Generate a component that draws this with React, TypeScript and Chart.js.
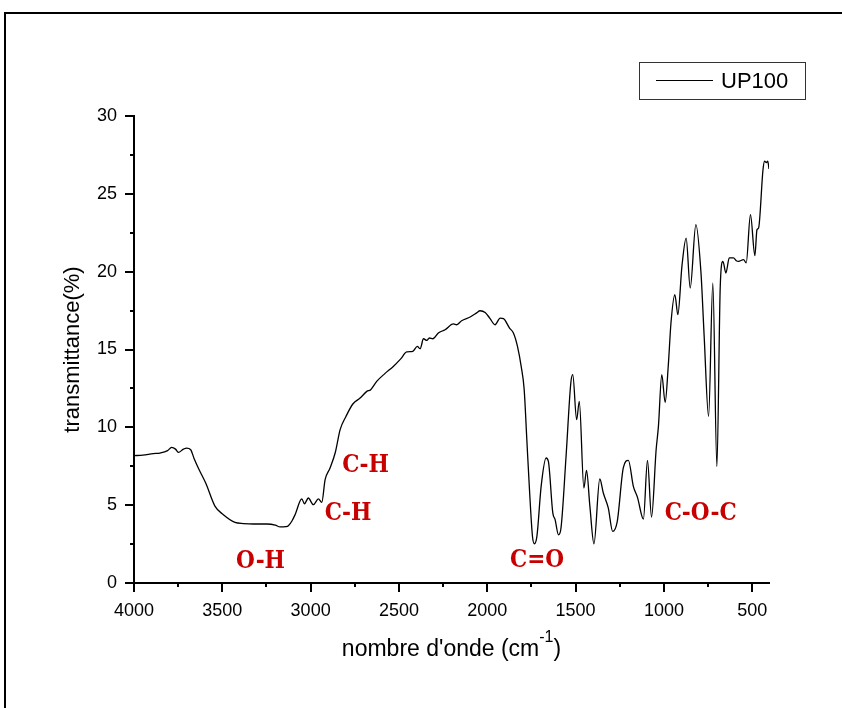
import { useEffect, useRef } from "react";
import { Chart, registerables } from "chart.js";

Chart.register(...registerables);

// ---- data ----
const wavenumbers = [
  4000, 3950, 3891, 3853, 3810, 3787, 3765, 3749, 3720, 3702, 3679, 3660, 3636, 3594, 3541,
  3494, 3428, 3380, 3324, 3249, 3200, 3173, 3140, 3126, 3105, 3088, 3050, 3035, 3013, 2985,
  2956, 2937, 2918, 2890, 2860, 2833, 2800, 2761, 2720, 2682, 2660, 2626, 2580, 2532, 2490,
  2456, 2422, 2396, 2380, 2361, 2342, 2328, 2308, 2277, 2239, 2192, 2173, 2145, 2097, 2060,
  2041, 2012, 1985, 1956, 1927, 1908, 1874, 1852, 1829, 1808, 1791, 1776, 1761, 1744, 1733,
  1719, 1695, 1667, 1654, 1629, 1616, 1597, 1584, 1554, 1527, 1516, 1494, 1479, 1453, 1438,
  1419, 1396, 1363, 1343, 1315, 1290, 1264, 1230, 1201, 1173, 1150, 1116, 1093, 1070, 1044,
  1031, 1012, 993, 975, 960, 938, 921, 898, 874, 851, 819, 790, 772, 747, 723,
  700, 681, 666, 649, 630, 606, 590, 578, 549, 534, 510, 485, 473, 464, 439,
  430, 420, 412, 405,
];
const transmittance = [
  8.18, 8.22, 8.31, 8.35, 8.5, 8.71, 8.6, 8.39, 8.6, 8.67, 8.56, 8.0, 7.39, 6.42, 4.92,
  4.39, 3.89, 3.82, 3.79, 3.79, 3.72, 3.6, 3.62, 3.68, 4.0, 4.39, 5.4, 5.09, 5.46, 5.03,
  5.4, 5.18, 6.64, 7.39, 8.4, 9.85, 10.7, 11.5, 11.88, 12.31, 12.42, 12.95, 13.45, 13.91, 14.4,
  14.84, 14.88, 15.2, 15.05, 15.69, 15.58, 15.74, 15.69, 16.06, 16.27, 16.64, 16.59, 16.85, 17.09, 17.35,
  17.49, 17.38, 17.0, 16.59, 17.02, 16.98, 16.38, 16.06, 15.2, 13.91, 12.42, 9.2, 5.99, 2.99, 2.52,
  2.99, 6.21, 8.03, 7.81, 4.5, 4.07, 3.1, 3.42, 8.13, 12.85, 13.38, 10.49, 11.67, 6.1, 7.23,
  4.92, 2.52, 6.68, 5.78, 4.82, 3.31, 3.96, 7.39, 7.88, 6.21, 5.52, 4.11, 7.88, 4.24, 8.56,
  10.06, 13.38, 11.6, 14.0, 16.7, 18.52, 17.24, 20.34, 22.16, 18.95, 23.02, 19.91, 15.84, 10.7, 19.27,
  7.49, 19.05, 20.66, 19.91, 20.88, 20.88, 20.7, 20.66, 20.77, 20.56, 23.66, 21.03, 22.7, 22.8, 26.55,
  27.1, 27.0, 27.1, 26.6,
];
const seriesLabel = "UP100";

const xTickValues = [4000, 3500, 3000, 2500, 2000, 1500, 1000, 500];
const yTickValues = [0, 5, 10, 15, 20, 25, 30];
const xMinorValues = [3750, 3250, 2750, 2250, 1750, 1250, 750];
const yMinorValues = [2.5, 7.5, 12.5, 17.5, 22.5, 27.5];

const annotationTexts = ["O-H", "C-H", "C-H", "C=O", "C-O-C"];
const annotationWn = [3284, 2689, 2788, 1718, 792];
const annotationT = [0.98, 7.15, 4.07, 1.05, 4.07];

const xTitle = "nombre d'onde (cm";
const xTitleSup = "-1";
const xTitleEnd = ")";
const yTitle = "transmittance(%)";

const SANS = '"Liberation Sans", Arial, sans-serif';
const SERIF = '"DejaVu Serif Condensed", "DejaVu Serif", serif';

const decorPlugin = {
  id: "decor",
  afterDraw(chart: any) {
    const { ctx, chartArea } = chart;
    const x = chart.scales.x;
    const y = chart.scales.y;
    ctx.save();
    ctx.strokeStyle = "#000";
    ctx.lineWidth = 2;
    ctx.beginPath();
    const bottom = chartArea.bottom;
    const left = chartArea.left;
    xTickValues.forEach((v) => {
      const p = Math.round(x.getPixelForValue(v));
      ctx.moveTo(p, bottom);
      ctx.lineTo(p, bottom + 9);
    });
    xMinorValues.forEach((v) => {
      const p = Math.round(x.getPixelForValue(v));
      ctx.moveTo(p, bottom);
      ctx.lineTo(p, bottom + 4);
    });
    yTickValues.forEach((v) => {
      const p = Math.round(y.getPixelForValue(v));
      ctx.moveTo(left, p);
      ctx.lineTo(left - 9, p);
    });
    yMinorValues.forEach((v) => {
      const p = Math.round(y.getPixelForValue(v));
      ctx.moveTo(left, p);
      ctx.lineTo(left - 4, p);
    });
    ctx.stroke();

    // annotations
    ctx.fillStyle = "#c80000";
    ctx.font = `bold 24px ${SERIF}`;
    ctx.textAlign = "center";
    ctx.textBaseline = "alphabetic";
    annotationTexts.forEach((t, i) => {
      ctx.fillText(t, x.getPixelForValue(annotationWn[i]), y.getPixelForValue(annotationT[i]));
    });

    // axis titles
    ctx.fillStyle = "#000";
    const cx = (chartArea.left + chartArea.right) / 2;
    ctx.font = `23px ${SANS}`;
    const w1 = ctx.measureText(xTitle).width;
    ctx.font = `16px ${SANS}`;
    const w2 = ctx.measureText(xTitleSup).width;
    ctx.font = `23px ${SANS}`;
    const w3 = ctx.measureText(xTitleEnd).width;
    const total = w1 + w2 + w3;
    let sx = cx - total / 2;
    const base = 656;
    ctx.textAlign = "left";
    ctx.fillText(xTitle, sx, base);
    sx += w1;
    ctx.font = `16px ${SANS}`;
    ctx.fillText(xTitleSup, sx, base - 14);
    sx += w2;
    ctx.font = `23px ${SANS}`;
    ctx.fillText(xTitleEnd, sx, base);

    ctx.save();
    ctx.translate(73, (chartArea.top + chartArea.bottom) / 2);
    ctx.rotate(-Math.PI / 2);
    ctx.font = `22px ${SANS}`;
    ctx.textAlign = "center";
    ctx.textBaseline = "middle";
    ctx.fillText(yTitle, 0, 0);
    ctx.restore();

    // legend box
    const ds = chart.data.datasets[0];
    ctx.lineWidth = 1;
    ctx.strokeStyle = "#333";
    ctx.strokeRect(639.5, 62.5, 166, 37);
    ctx.strokeStyle = ds.borderColor;
    ctx.beginPath();
    ctx.moveTo(656, 80.5);
    ctx.lineTo(713, 80.5);
    ctx.stroke();
    ctx.fillStyle = "#000";
    ctx.font = `22px ${SANS}`;
    ctx.textAlign = "left";
    ctx.textBaseline = "alphabetic";
    ctx.fillText(ds.label, 721, 88);
    ctx.restore();
  },
};

export default function App() {
  const ref = useRef<HTMLCanvasElement | null>(null);
  useEffect(() => {
    if (!ref.current) return;
    const chart = new Chart(ref.current, {
      type: "line",
      data: {
        datasets: [
          {
            label: seriesLabel,
            data: wavenumbers.map((w, i) => ({ x: w, y: transmittance[i] })),
            borderColor: "#000",
            borderWidth: 1.3,
            pointRadius: 0,
            fill: false,
            cubicInterpolationMode: "monotone",
          },
        ],
      },
      options: {
        animation: false,
        responsive: false,
        devicePixelRatio: 1,
        layout: { padding: { top: 116, right: 73, left: 0, bottom: 0 } },
        plugins: { legend: { display: false }, tooltip: { enabled: false } },
        scales: {
          x: {
            type: "linear",
            reverse: true,
            min: 405,
            max: 4000,
            afterBuildTicks: (s: any) => {
              s.ticks = xTickValues.map((v) => ({ value: v }));
            },
            afterFit: (s: any) => {
              s.height = 125;
            },
            grid: { display: false },
            border: { display: true, color: "#000", width: 2 },
            ticks: {
              padding: 9,
              color: "#000",
              font: { family: SANS, size: 18 },
              maxRotation: 0,
              autoSkip: false,
              callback: (v: any) => String(v),
            },
          },
          y: {
            type: "linear",
            min: 0,
            max: 30,
            afterBuildTicks: (s: any) => {
              s.ticks = yTickValues.map((v) => ({ value: v }));
            },
            afterFit: (s: any) => {
              s.width = 134;
            },
            grid: { display: false },
            border: { display: true, color: "#000", width: 2 },
            ticks: {
              padding: 9,
              color: "#000",
              font: { family: SANS, size: 18 },
              autoSkip: false,
              callback: (v: any) => String(v),
            },
          },
        },
      },
      plugins: [decorPlugin],
    } as any);
    return () => chart.destroy();
  }, []);

  return (
    <div style={{ position: "fixed", left: 0, top: 0, width: 842, height: 708, overflow: "hidden", background: "#fff" }}>
      <div
        style={{
          position: "absolute",
          left: 4,
          top: 12,
          width: 900,
          height: 800,
          border: "2px solid #000",
        }}
      />
      <canvas ref={ref} width={842} height={708} style={{ position: "absolute", left: 0, top: 0, width: 842, height: 708 }} />
    </div>
  );
}
